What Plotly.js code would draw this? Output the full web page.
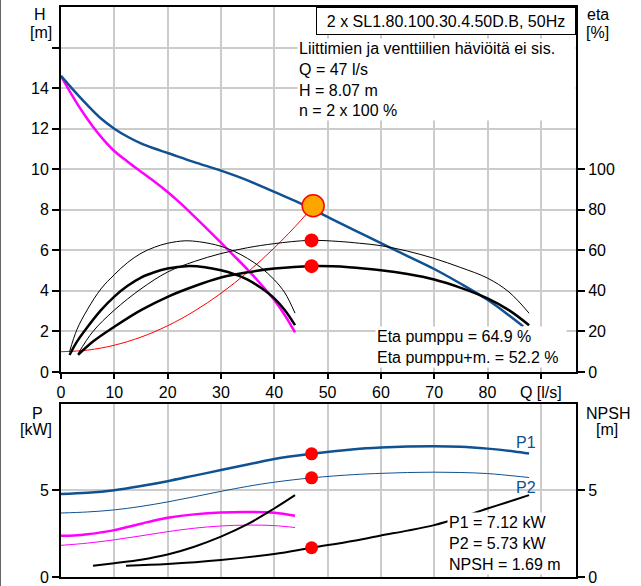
<!DOCTYPE html>
<html>
<head>
<meta charset="utf-8">
<script src="https://cdn.plot.ly/plotly-3.0.1.min.js"></script>
<style>
html,body{margin:0;padding:0;background:#fff;}
#wrap{position:relative;width:641px;height:586px;}
#edge{position:absolute;left:0;top:0;width:1px;height:586px;background:#666;z-index:5;}
#chart{width:641px;height:586px;}
</style>
</head>
<body>
<div id="wrap"><div id="edge"></div><div id="chart"></div></div>
<script>
// ---- Data ----
// Q-H, two pumps (blue)
const qH2 = [0, 2, 5, 7.5, 10, 12.5, 15, 17.5, 20, 25, 30, 35, 40, 45, 50, 55, 60, 65, 70, 75, 80, 84, 86.7];
const hH2 = [14.6, 14.0, 13.15, 12.5, 12.0, 11.6, 11.27, 11.02, 10.8, 10.35, 9.93, 9.45, 8.88, 8.3, 7.65, 7.0, 6.36, 5.72, 5.08, 4.35, 3.56, 2.8, 2.25];
// Q-H, one pump (magenta)
const qH1 = [0, 1.5, 3, 4.5, 6, 8, 10, 12.5, 15, 17.5, 20, 22.5, 25, 27.5, 30, 32.5, 35, 37.5, 40, 42, 43.9];
const hH1 = [14.6, 13.9, 13.25, 12.65, 12.1, 11.45, 10.9, 10.37, 9.88, 9.4, 8.88, 8.3, 7.67, 7.03, 6.38, 5.72, 5.05, 4.33, 3.55, 2.8, 1.95];
// System curve (red)
const qSys = [0, 5, 10, 15, 20, 25, 30, 35, 40, 45, 47.3];
const hSys = [1.0, 1.08, 1.32, 1.72, 2.28, 3.0, 3.88, 4.92, 6.12, 7.48, 8.2];
// Efficiency, one pump: hydraulic (thin) and total (thick)
const qEta1 = [1.6, 3, 5, 7.5, 10, 12.5, 15, 17.5, 20, 23.3, 26, 28, 30, 32.5, 35, 37.5, 40, 42, 43.9];
const eta1  = [10, 21, 31, 41, 48, 54, 58.5, 61.5, 63.5, 64.7, 64.2, 63.3, 62, 59.5, 56, 51.5, 45.5, 39, 29];
const qEta2 = [1.6, 3, 5, 7.5, 10, 12.5, 15, 17.5, 20, 23.5, 27, 30, 32.5, 35, 37.5, 40, 42, 43.9];
const eta2  = [8.4, 15, 22.3, 30.5, 37.2, 42.5, 46.6, 49.2, 51, 52.2, 51.7, 50.2, 48.3, 45.6, 41.5, 36.3, 30.5, 23.1];
// Efficiency, two pumps: hydraulic (thin) and total (thick)
const qEta3 = [3.2, 6, 10, 15, 20, 25, 30, 35, 40, 46.5, 52, 56, 60, 65, 70, 75, 80, 84, 87.8];
const eta3  = [9, 20, 30.5, 41, 49.3, 54.5, 58.4, 61.3, 63.3, 64.9, 64.4, 63.5, 62.3, 59.6, 56, 51.5, 46.3, 39.5, 29];
const qEta4 = [3.2, 6, 10, 15, 20, 25, 30, 35, 40, 47, 54, 60, 65, 70, 75, 80, 84, 87.8];
const eta4  = [8.4, 15, 22.3, 30.5, 37.1, 42.3, 46.6, 49.2, 51, 52.2, 51.7, 50.2, 48.3, 45.6, 41.5, 36.3, 30.5, 23.1];
// Duty point
const dutyQ = 47, dutyH = 8.2, dutyEtaP = 64.9, dutyEtaPM = 52.2;
// Power, two pumps
const qP2 = [0, 5, 10, 15, 20, 25, 30, 35, 40, 47, 55, 60, 65, 70, 75, 80, 85, 87.8];
const p1Two = [4.8, 4.87, 5.02, 5.26, 5.54, 5.86, 6.18, 6.5, 6.82, 7.12, 7.38, 7.48, 7.54, 7.56, 7.53, 7.42, 7.26, 7.14];
const p2Two = [3.7, 3.76, 3.88, 4.08, 4.34, 4.64, 4.95, 5.24, 5.48, 5.73, 5.92, 5.99, 6.04, 6.06, 6.04, 5.98, 5.84, 5.75];
// Power, one pump
const qP1 = [0, 2.5, 5, 7.5, 10, 12.5, 15, 17.5, 20, 25, 30, 35, 40, 43.9];
const p1One = [2.38, 2.4, 2.47, 2.58, 2.71, 2.89, 3.08, 3.27, 3.42, 3.62, 3.73, 3.76, 3.71, 3.54];
const qP1b = [0, 5, 10, 15, 20, 25, 30, 35, 40, 43.9];
const p2One = [1.83, 1.96, 2.15, 2.38, 2.62, 2.82, 2.95, 3.0, 2.97, 2.86];
// NPSH
const qN1 = [6, 10, 15, 20, 25, 30, 35, 40, 43.9];
const npsh1 = [0.65, 0.8, 1.0, 1.3, 1.75, 2.33, 3.05, 3.96, 4.73];
const qN2 = [12.2, 20, 30, 40, 47, 55, 60, 65, 70, 75, 80, 85, 87.8];
const npsh2 = [0.65, 0.75, 0.98, 1.33, 1.69, 2.1, 2.4, 2.68, 3.0, 3.45, 3.96, 4.45, 4.73];
const dutyP1 = 7.12, dutyP2 = 5.73, dutyNPSH = 1.69;
// Tick labels
const qTicks = [0, 10, 20, 30, 40, 50, 60, 70, 80, 90];
const qTickText = ['0', '10', '20', '30', '40', '50', '60', '70', '80', 'Q [l/s]'];
const hTicks = [0, 2, 4, 6, 8, 10, 12, 14, 16];
const hTickText = ['0', '2', '4', '6', '8', '10', '12', '14', ''];
const etaTicks = [0, 20, 40, 60, 80, 100];
const pTicks = [0, 5];

const BLUE = '#0f5191', MAG = '#ff00ff', RED = '#ff0000', BLK = '#000000';
function ln(x, y, color, width, xa, ya) {
  return {x: x, y: y, type: 'scatter', mode: 'lines', xaxis: xa, yaxis: ya,
    line: {color: color, width: width, shape: 'spline', smoothing: 1}, hoverinfo: 'skip', showlegend: false};
}
const traces = [
  ln(qSys, hSys, RED, 1, 'x', 'y'),
  ln(qEta1, eta1, BLK, 1, 'x', 'y2'),
  ln(qEta2, eta2, BLK, 2.5, 'x', 'y2'),
  ln(qEta3, eta3, BLK, 1, 'x', 'y2'),
  ln(qEta4, eta4, BLK, 2.5, 'x', 'y2'),
  ln(qH1, hH1, MAG, 2.5, 'x', 'y'),
  ln(qH2, hH2, BLUE, 2.5, 'x', 'y'),
  {x: [dutyQ, dutyQ], y: [dutyEtaP, dutyEtaPM], xaxis: 'x', yaxis: 'y2', type: 'scatter', mode: 'markers',
   marker: {size: 14, color: RED}, showlegend: false, hoverinfo: 'skip'},
  {x: [dutyQ + 0.3], y: [dutyH], xaxis: 'x', yaxis: 'y', type: 'scatter', mode: 'markers',
   marker: {size: 22, color: '#ffa500', line: {color: RED, width: 1.5}}, showlegend: false, hoverinfo: 'skip'},
  // bottom panel
  ln(qP1b, p2One, MAG, 1, 'x2', 'y3'),
  ln(qP1, p1One, MAG, 2.5, 'x2', 'y3'),
  ln(qP2, p2Two, BLUE, 1, 'x2', 'y3'),
  ln(qP2, p1Two, BLUE, 2.5, 'x2', 'y3'),
  ln(qN1, npsh1, BLK, 2, 'x2', 'y4'),
  ln(qN2, npsh2, BLK, 2, 'x2', 'y4'),
  {x: [dutyQ, dutyQ], y: [dutyP1, dutyP2], xaxis: 'x2', yaxis: 'y3', type: 'scatter', mode: 'markers',
   marker: {size: 13, color: RED}, showlegend: false, hoverinfo: 'skip'},
  {x: [dutyQ], y: [dutyNPSH], xaxis: 'x2', yaxis: 'y4', type: 'scatter', mode: 'markers',
   marker: {size: 13, color: RED}, showlegend: false, hoverinfo: 'skip'}
];

const F = 'Arial, "Liberation Sans", sans-serif';
const font16 = {family: F, size: 16, color: '#000'};
const GRID = '#cccccc';
const axBase = {showline: true, linecolor: '#000', linewidth: 2, zeroline: false,
  gridcolor: GRID, gridwidth: 2, tickfont: font16, tickcolor: '#000', tickwidth: 2, fixedrange: true};

const yTopDom = [0.35965, 1];
const yBotDom = [0, 0.30351];

function ttl(x, y, text) {
  return {xref: 'paper', yref: 'paper', x: x, y: y, xanchor: 'center', yanchor: 'middle',
    text: text, showarrow: false, font: font16, align: 'center'};
}

const layout = {
  width: 641, height: 586,
  margin: {l: 61, r: 65, t: 7, b: 9, pad: 0},
  paper_bgcolor: '#fff', plot_bgcolor: '#fff',
  font: font16,
  showlegend: false,
  xaxis: Object.assign({}, axBase, {domain: [0, 1], anchor: 'y', range: [0, 96.6],
    tickmode: 'array', tickvals: qTicks, ticktext: qTickText, ticks: 'outside', ticklen: 5,
    mirror: true, showgrid: true}),
  yaxis: Object.assign({}, axBase, {domain: yTopDom, anchor: 'x', range: [0, 18],
    tickmode: 'array', tickvals: hTicks, ticktext: hTickText, ticks: 'outside', ticklen: 7,
    mirror: true, showgrid: true}),
  yaxis2: Object.assign({}, axBase, {overlaying: 'y', side: 'right', anchor: 'x', range: [0, 180],
    tickmode: 'array', tickvals: etaTicks, ticks: 'outside', ticklen: 7, showgrid: false}),
  xaxis2: Object.assign({}, axBase, {domain: [0, 1], anchor: 'y3', range: [0, 96.6],
    tickmode: 'array', tickvals: qTicks, showticklabels: false, ticks: '',
    mirror: true, showgrid: true}),
  yaxis3: Object.assign({}, axBase, {domain: yBotDom, anchor: 'x2', range: [0, 10],
    tickmode: 'array', tickvals: pTicks, ticks: 'outside', ticklen: 7, mirror: true, showgrid: true}),
  yaxis4: Object.assign({}, axBase, {overlaying: 'y3', side: 'right', anchor: 'x2', range: [0, 10],
    tickmode: 'array', tickvals: pTicks, ticks: 'outside', ticklen: 7, showgrid: false}),
  annotations: [
    {xref: 'paper', yref: 'paper', x: 1, y: 1, xanchor: 'right', yanchor: 'top',
     text: '2 x SL1.80.100.30.4.50D.B, 50Hz', showarrow: false, font: font16,
     bgcolor: '#fff', bordercolor: '#000', borderwidth: 1, borderpad: 3, width: 252, height: 20},
    {xref: 'paper', yref: 'paper', x: 0.4583, y: 0.9456, xanchor: 'left', yanchor: 'top', align: 'left',
     text: 'Liittimien ja venttiilien häviöitä ei sis.<br>Q = 47 l/s<br>H = 8.07 m<br>n = 2 x 100 %',
     showarrow: false, font: font16, bgcolor: '#fff', borderpad: 1, width: 275},
    {xref: 'paper', yref: 'paper', x: 0.6097, y: 0.4404, xanchor: 'left', yanchor: 'top', align: 'left',
     text: 'Eta pumppu = 64.9 %<br>Eta pumppu+m. = 52.2 %',
     showarrow: false, font: font16, bgcolor: '#fff', borderpad: 1, width: 188},
    {xref: 'paper', yref: 'paper', x: 0.7495, y: 0.114, xanchor: 'left', yanchor: 'top', align: 'left',
     text: 'P1 = 7.12 kW<br>P2 = 5.73 kW<br>NPSH = 1.69 m',
     showarrow: false, font: font16, bgcolor: '#fff', borderpad: 1, width: 120},
    {xref: 'x2', yref: 'y3', x: 87.2, y: 7.79, xanchor: 'center', yanchor: 'middle', text: 'P1', showarrow: false,
     font: {family: F, size: 16, color: BLUE}},
    {xref: 'x2', yref: 'y3', x: 87.2, y: 5.19, xanchor: 'center', yanchor: 'middle', text: 'P2', showarrow: false,
     font: {family: F, size: 16, color: BLUE}},
    ttl(-0.0408, 0.986, 'H'),
    ttl(-0.0388, 0.956, '[m]'),
    ttl(1.0427, 0.986, 'eta'),
    ttl(1.0427, 0.956, '[%]'),
    ttl(-0.0466, 0.2877, 'P'),
    ttl(-0.0485, 0.2596, '[kW]'),
    ttl(1.0612, 0.2877, 'NPSH'),
    ttl(1.0602, 0.2596, '[m]')
  ]
};

Plotly.newPlot('chart', traces, layout, {displayModeBar: false, staticPlot: true});
</script>
</body>
</html>
